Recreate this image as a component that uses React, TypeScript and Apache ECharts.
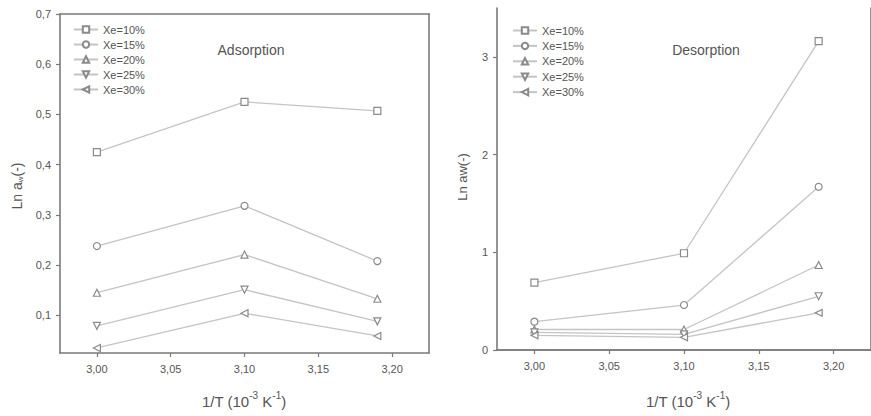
import React, { useEffect, useRef } from "react";
import * as echarts from "echarts";

const xValues = [3.0, 3.1, 3.19];
const seriesNames = ["Xe=10%", "Xe=15%", "Xe=20%", "Xe=25%", "Xe=30%"];

const adsorption10 = [0.425, 0.525, 0.507];
const adsorption15 = [0.238, 0.318, 0.208];
const adsorption20 = [0.145, 0.221, 0.133];
const adsorption25 = [0.079, 0.151, 0.088];
const adsorption30 = [0.035, 0.104, 0.059];

const desorption10 = [0.69, 0.99, 3.16];
const desorption15 = [0.29, 0.46, 1.67];
const desorption20 = [0.21, 0.21, 0.87];
const desorption25 = [0.18, 0.16, 0.55];
const desorption30 = [0.15, 0.13, 0.38];

const xTicks = [3.0, 3.05, 3.1, 3.15, 3.2];
const yTicksAds = [0.1, 0.2, 0.3, 0.4, 0.5, 0.6, 0.7];
const yTicksDes = [0, 1, 2, 3];

const symbols = [
  "rect",
  "circle",
  "triangle",
  "path://M0,0L10,0L5,10Z",
  "path://M0,5L10,0L10,10Z",
];

const TEXT = "#555";
const AXIS = "#7a7a7a";
const LINE = "#c4c4c4";
const MARK = "#8a8a8a";
const FONT = "Liberation Sans";

export default function App() {
  const ref = useRef<HTMLDivElement>(null);
  useEffect(() => {
    if (!ref.current) return;
    const chart = echarts.init(ref.current, null, { renderer: "svg" });
    const ads = [adsorption10, adsorption15, adsorption20, adsorption25, adsorption30];
    const des = [desorption10, desorption15, desorption20, desorption25, desorption30];

    const fmtX = (v: number) => v.toFixed(2).replace(".", ",");

    const mkX = (grid: number) => [
      {
        type: "value",
        gridIndex: grid,
        min: 2.975,
        max: 3.225,
        axisLine: { show: true, lineStyle: { color: AXIS, width: 1.6 } },
        axisTick: { show: true, length: 4, customValues: xTicks, lineStyle: { color: AXIS, width: 1.2 } },
        axisLabel: { customValues: xTicks, formatter: fmtX, fontSize: 11, color: TEXT, fontFamily: FONT, margin: 10 },
        splitLine: { show: false },
      },
      {
        type: "value",
        gridIndex: grid,
        position: "top",
        min: 2.975,
        max: 3.225,
        axisLine: { show: true, lineStyle: { color: AXIS, width: 1.6 } },
        axisTick: { show: false },
        axisLabel: { show: false },
        splitLine: { show: false },
      },
    ];
    const mkY = (grid: number, min: number, max: number, ticks: number[], fmt: (v: number) => string) => [
      {
        type: "value",
        gridIndex: grid,
        min,
        max,
        axisLine: { show: true, lineStyle: { color: AXIS, width: 1.6 } },
        axisTick: { show: true, length: 4, customValues: ticks, lineStyle: { color: AXIS, width: 1.2 } },
        axisLabel: { customValues: ticks, formatter: fmt, fontSize: 11, color: TEXT, fontFamily: FONT, margin: 9 },
        splitLine: { show: false },
      },
      {
        type: "value",
        gridIndex: grid,
        position: "right",
        min,
        max,
        axisLine: { show: true, lineStyle: { color: AXIS, width: 1.6 } },
        axisTick: { show: false },
        axisLabel: { show: false },
        splitLine: { show: false },
      },
    ];

    const mkSeries = (sets: number[][], axisIdx: number) =>
      sets.map((vals, i) => ({
        name: seriesNames[i],
        type: "line",
        xAxisIndex: axisIdx,
        yAxisIndex: axisIdx,
        data: vals.map((v, j) => [xValues[j], v]),
        symbol: symbols[i],
        symbolSize: 7,
        showAllSymbol: true,
        lineStyle: { color: LINE, width: 1.3 },
        itemStyle: { color: "#fff", borderColor: MARK, borderWidth: 1.2 },
        emphasis: { disabled: true },
      }));

    const legendBase = {
      orient: "vertical",
      itemWidth: 24,
      itemHeight: 8,
      padding: 0,
      selectedMode: false,
      textStyle: { fontSize: 11, color: TEXT, fontFamily: FONT },
      data: seriesNames,
    };

    const supRich = { sup: { fontSize: 10, fontFamily: FONT, fill: TEXT, verticalAlign: "bottom", padding: [0, 0, 11, 0] } };

    chart.setOption({
      animation: false,
      grid: [
        { left: 60, top: 14, width: 369, height: 339 },
        { left: 497, top: 8, width: 380, height: 342 },
      ],
      xAxis: [...mkX(0), ...mkX(1)],
      yAxis: [
        ...mkY(0, 0.025, 0.7, yTicksAds, (v: number) => v.toFixed(1).replace(".", ",")),
        ...mkY(1, 0, 3.5, yTicksDes, (v: number) => String(Math.round(v))),
      ],
      legend: [
        { ...legendBase, left: 73, top: 24, itemGap: 4 },
        { ...legendBase, left: 512, top: 25, itemGap: 4.4 },
      ],
      series: [...mkSeries(ads, 0), ...mkSeries(des, 2)],
      graphic: [
        {
          type: "text",
          x: 251,
          y: 50,
          style: { text: "Adsorption", font: `14px '${FONT}'`, fill: TEXT, align: "center", verticalAlign: "middle" },
        },
        {
          type: "text",
          x: 706,
          y: 50,
          style: { text: "Desorption", font: `14px '${FONT}'`, fill: TEXT, align: "center", verticalAlign: "middle" },
        },
        {
          type: "text",
          x: 244,
          y: 401,
          style: {
            text: "1/T (10{sup|-3} K{sup|-1})",
            font: `15px '${FONT}'`,
            fill: TEXT,
            align: "center",
            verticalAlign: "middle",
            rich: supRich,
          },
        },
        {
          type: "text",
          x: 688,
          y: 401,
          style: {
            text: "1/T (10{sup|-3} K{sup|-1})",
            font: `15px '${FONT}'`,
            fill: TEXT,
            align: "center",
            verticalAlign: "middle",
            rich: supRich,
          },
        },
        {
          type: "text",
          x: 17,
          y: 186,
          rotation: Math.PI / 2,
          style: {
            text: "Ln a{sub|w}(-)",
            font: `14px '${FONT}'`,
            fill: TEXT,
            align: "center",
            verticalAlign: "middle",
            rich: { sub: { fontSize: 8, fontFamily: FONT, fill: TEXT, verticalAlign: "top", padding: [7, 0, 0, 0] } },
          },
        },
        {
          type: "text",
          x: 462,
          y: 177,
          rotation: Math.PI / 2,
          style: { text: "Ln aw(-)", font: `13px '${FONT}'`, fill: TEXT, align: "center", verticalAlign: "middle" },
        },
      ],
    });
    return () => chart.dispose();
  }, []);
  return (
    <div
      ref={ref}
      style={{ position: "absolute", left: 0, top: 0, width: 871, height: 416, background: "#fff" }}
    />
  );
}
